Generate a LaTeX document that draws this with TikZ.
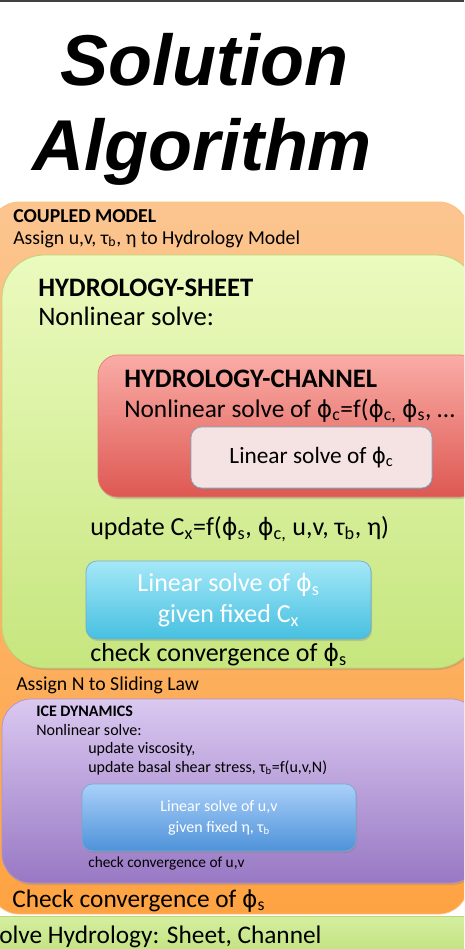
\documentclass[tikz,border=0pt]{standalone}
\usepackage{fontspec}
\setmainfont{Carlito}
\newfontfamily\titlefont{Liberation Sans}
\newfontfamily\grkfont[Scale=0.92]{DejaVu Sans}
\usepackage{xcolor}
\usetikzlibrary{shadows}

\definecolor{cplTop}{RGB}{252,197,144}
\definecolor{cplBot}{RGB}{254,163,66}
\definecolor{shtTop}{RGB}{235,250,190}
\definecolor{shtBot}{RGB}{198,230,126}
\definecolor{shtLine}{RGB}{185,215,120}
\definecolor{chnTop}{RGB}{250,172,166}
\definecolor{chnBot}{RGB}{222,88,82}
\definecolor{pinkFill}{RGB}{245,226,226}
\definecolor{boxLine}{RGB}{120,170,200}
\definecolor{cyaTop}{RGB}{165,232,248}
\definecolor{cyaBot}{RGB}{70,192,224}
\definecolor{iceTop}{RGB}{218,200,240}
\definecolor{iceBot}{RGB}{152,120,196}
\definecolor{bluTop}{RGB}{170,208,250}
\definecolor{bluBot}{RGB}{78,146,216}
\definecolor{strTop}{RGB}{212,238,160}
\definecolor{strBot}{RGB}{190,225,120}

\newcommand{\sbs}[1]{\textsubscript{#1}}
\newcommand{\phiG}{{\grkfont ϕ}}

\tikzset{
  lbl/.style={anchor=base west, inner sep=0pt, font=\fontsize{#1}{#1}\selectfont},
  titletxt/.style={anchor=base, inner sep=0pt, font=\titlefont\bfseries\itshape\fontsize{54pt}{54pt}\selectfont},
  shade/.style={drop shadow={opacity=0.3, shadow xshift=0.8pt, shadow yshift=-1.5pt}},
  linbox/.style={rounded corners=8pt, draw=boxLine, line width=0.5pt, align=center, inner sep=0pt, shade},
}

\begin{document}
\begin{tikzpicture}[x=0.75pt,y=-0.75pt]
  \useasboundingbox (0,0) rectangle (464,949);
  \clip (0,0) rectangle (464,949);
  \fill[white] (0,0) rectangle (464,949);
  \draw[line width=1.5pt, black!75] (0,0.8) -- (464,0.8);

  % title
  \node[titletxt] (solTitle) at (204,85) {Solution};
  \node[titletxt] (algTitle) at (202,170) {Algorithm};

  % coupled model
  \draw[rounded corners=22pt, top color=cplTop, bottom color=cplBot, draw=cplBot!70!white, line width=0.6pt] (-10,202) rectangle (468,914);
  \node[lbl=14.8pt] (cplHead) at (13,222) {\bfseries COUPLED MODEL};
  \node[lbl=14.8pt] (cplAssign) at (13,244) {Assign u,v, τ\sbs{b}, η to Hydrology Model};

  % hydrology sheet
  \draw[rounded corners=32pt, top color=shtTop, bottom color=shtBot, draw=shtLine, line width=0.6pt, shade] (2,255) rectangle (478,668);
  \node[lbl=20pt] (shtHead) at (38,296) {\bfseries HYDROLOGY-SHEET};
  \node[lbl=20pt] (shtSolve) at (38,325) {Nonlinear solve:};

  % hydrology channel
  \draw[rounded corners=15pt, top color=chnTop, bottom color=chnBot, draw=chnBot!80!white, line width=0.5pt, shade] (98,355) rectangle (480,497);
  \node[lbl=20pt] (chnHead) at (124,387) {\bfseries HYDROLOGY-CHANNEL};
  \node[lbl=19pt] (chnSolve) at (124,417) {Nonlinear solve of \phiG\sbs{c}=f(\phiG\sbs{c,} \phiG\sbs{s}, …};
  \node[linbox, fill=pinkFill, minimum width=180.75pt, minimum height=45.75pt, font=\fontsize{17.5pt}{17.5pt}\selectfont] (linC) at (311.5,457.5) {Linear solve of \phiG\sbs{c}};

  \node[lbl=19.5pt] (updCx) at (90,535) {update C\sbs{x}=f(\phiG\sbs{s}, \phiG\sbs{c,} u,v, τ\sbs{b}, η)};
  \node[linbox, top color=cyaTop, bottom color=cyaBot, text=white, minimum width=213.75pt, minimum height=58.5pt, font=\fontsize{19.5pt}{23.25pt}\selectfont] (linS) at (228.5,600) {Linear solve of \phiG\sbs{s}\\given fixed C\sbs{x}};
  \node[lbl=19.5pt] (chkS) at (90,661) {check convergence of \phiG\sbs{s}};

  \node[lbl=14.8pt] (assignN) at (16,690) {Assign N to Sliding Law};

  % ice dynamics
  \draw[rounded corners=22pt, top color=iceTop, bottom color=iceBot, draw=iceBot!80!white, line width=0.5pt, shade] (2,699) rectangle (480,883);
  \node[lbl=12pt] (iceHead) at (36,716) {\bfseries ICE DYNAMICS};
  \node[lbl=12pt] (iceSolve) at (36,735) {Nonlinear solve:};
  \node[lbl=12pt] (updVisc) at (88,753) {update viscosity,};
  \node[lbl=12pt] (updTau) at (88,772) {update basal shear stress, τ\sbs{b}=f(u,v,N)};
  \node[linbox, top color=bluTop, bottom color=bluBot, text=white, minimum width=205.5pt, minimum height=50.25pt, font=\fontsize{12pt}{15.75pt}\selectfont] (linUV) at (219,817.5) {Linear solve of u,v\\given fixed η, τ\sbs{b}};
  \node[lbl=11.5pt] (chkUV) at (88,867) {check convergence of u,v};

  \node[lbl=19pt] (chkAll) at (12,907) {Check convergence of \phiG\sbs{s}};

  % next step strip
  \draw[top color=strTop, bottom color=strBot, draw=shtLine, line width=0.5pt] (-5,916) rectangle (480,960);
  \node[lbl=19pt] (nextHyd) at (-1,943) {olve Hydrology: Sheet, Channel};
\end{tikzpicture}
\end{document}
